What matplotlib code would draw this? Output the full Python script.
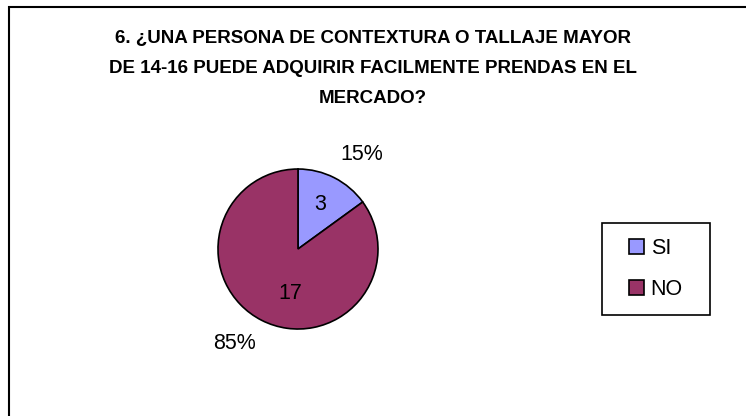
import numpy as np
import matplotlib.pyplot as plt
from matplotlib.patches import Rectangle

plt.rcParams['font.family'] = ['Liberation Sans', 'DejaVu Sans']

titulo = "6. ¿UNA PERSONA DE CONTEXTURA O TALLAJE MAYOR\nDE 14-16 PUEDE ADQUIRIR FACILMENTE PRENDAS EN EL\nMERCADO?"
categorias = ['SI', 'NO']
valores = [3, 17]
porcentajes = ['15%', '85%']
colores = ['#9999FF', '#993366']

fig = plt.figure(figsize=(7.46, 4.16), dpi=100)

# marco del grafico (solo se ven los bordes izquierdo y superior)
fig.patches.append(Rectangle((8.5 / 746, -0.1), 1.2, 1 - 6.5 / 416 + 0.1,
                             transform=fig.transFigure, fill=False,
                             edgecolor='black', linewidth=1.5))

fig.text(0.5, 1 - 30 / 416, titulo, ha='center', va='top', fontsize=13.5,
         fontweight='bold', linespacing=2.0)

ax = fig.add_axes([0.2922, 0.2091, 0.2145, 0.3846])
wedges, textos = ax.pie(valores, colors=colores, startangle=90, counterclock=False,
                        labels=porcentajes, labeldistance=1.43,
                        wedgeprops=dict(edgecolor='black', linewidth=1.2),
                        textprops=dict(fontsize=15.5))

for w, t, v in zip(wedges, textos, valores):
    medio = (w.theta1 + w.theta2) / 2
    # porcentaje fuera de la porcion, un poco girado como en Excel
    a = np.deg2rad(medio - 7)
    t.set_position((1.43 * np.cos(a), 1.43 * np.sin(a)))
    t.set_ha('center')
    t.set_va('center')
    # valor dentro de la porcion
    a = np.deg2rad(medio)
    fx = 1 if v == valores[0] else 0.35
    ax.text(0.62 * np.cos(a) * fx, 0.62 * np.sin(a), str(v),
            ha='center', va='center', fontsize=15.5)

ax.set_xlim(-1, 1)
ax.set_ylim(-1, 1)
ax.set_aspect('equal')

leg = fig.legend(wedges, categorias, loc='center', bbox_to_anchor=(656 / 746, 1 - 269 / 416),
                 fontsize=15.5, frameon=False,
                 handlelength=0.7, handleheight=0.7, handletextpad=0.3,
                 labelspacing=0.9, borderpad=0.8, borderaxespad=0)
for h in leg.legend_handles:
    h.set_linewidth(1.2)

# caja de la leyenda, mas ancha que la que da matplotlib
fig.canvas.draw()
bb = leg.get_window_extent().transformed(fig.transFigure.inverted())
dx, dy = 10 / 746, 2 / 416
fig.patches.append(Rectangle((bb.x0 - dx, bb.y0 + dy), bb.width + 2 * dx, bb.height - 2 * dy,
                             transform=fig.transFigure, fill=False,
                             edgecolor='black', linewidth=1.2))

fig.savefig('out.png', dpi=100)
